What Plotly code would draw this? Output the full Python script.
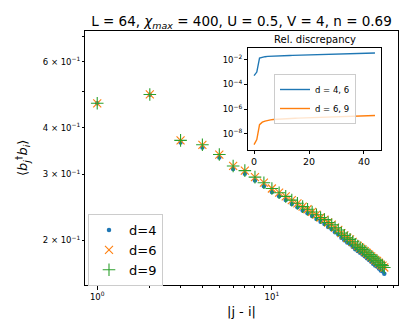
import plotly.graph_objects as go

# main panel: correlation vs distance
dist = list(range(1, 45))
corr_d4 = [0.465, 0.490, 0.365, 0.354, 0.333, 0.310, 0.301, 0.289, 0.279, 0.269,
           0.262, 0.256, 0.250, 0.245, 0.240, 0.236, 0.232, 0.228, 0.224, 0.221,
           0.217, 0.214, 0.210, 0.207, 0.203, 0.200, 0.197, 0.195, 0.192, 0.189,
           0.187, 0.185, 0.183, 0.181, 0.179, 0.177, 0.175, 0.173, 0.171, 0.170,
           0.168, 0.166, 0.165, 0.1627]
corr_d6 = [0.465, 0.491, 0.370, 0.360, 0.339, 0.316, 0.307, 0.295, 0.285, 0.275,
           0.268, 0.262, 0.256, 0.251, 0.246, 0.242, 0.238, 0.234, 0.230, 0.227,
           0.223, 0.220, 0.216, 0.213, 0.209, 0.206, 0.203, 0.201, 0.198, 0.195,
           0.193, 0.191, 0.189, 0.187, 0.185, 0.183, 0.181, 0.179, 0.177, 0.176,
           0.174, 0.172, 0.171, 0.169]
corr_d9 = [0.465, 0.491, 0.370, 0.360, 0.339, 0.316, 0.307, 0.295, 0.285, 0.275,
           0.268, 0.262, 0.256, 0.251, 0.246, 0.242, 0.238, 0.234, 0.230, 0.227,
           0.223, 0.220, 0.216, 0.213, 0.209, 0.206, 0.203, 0.201, 0.198, 0.195,
           0.193, 0.191, 0.189, 0.187, 0.185, 0.183, 0.181, 0.179, 0.177, 0.176,
           0.174, 0.172, 0.171, 0.169]

# inset: relative discrepancy
idx = list(range(0, 45))
disc_46 = [5.1e-4, 1.0e-3, 1.38e-2, 1.6e-2, 1.75e-2, 1.85e-2, 1.92e-2, 1.98e-2, 2.03e-2, 2.07e-2,
           2.1e-2, 2.14e-2, 2.17e-2, 2.2e-2, 2.23e-2, 2.26e-2, 2.29e-2, 2.32e-2, 2.35e-2, 2.38e-2,
           2.41e-2, 2.44e-2, 2.47e-2, 2.5e-2, 2.53e-2, 2.57e-2, 2.6e-2, 2.64e-2, 2.68e-2, 2.72e-2,
           2.76e-2, 2.8e-2, 2.85e-2, 2.9e-2, 2.95e-2, 3.0e-2, 3.05e-2, 3.1e-2, 3.15e-2, 3.2e-2,
           3.26e-2, 3.32e-2, 3.38e-2, 3.44e-2, 3.5e-2]
disc_69 = [1.4e-9, 3.5e-9, 5.6e-8, 8.9e-8, 1.1e-7, 1.29e-7, 1.38e-7, 1.46e-7, 1.53e-7, 1.6e-7,
           1.66e-7, 1.71e-7, 1.75e-7, 1.79e-7, 1.83e-7, 1.86e-7, 1.9e-7, 1.93e-7, 1.96e-7, 1.98e-7,
           2.0e-7, 2.03e-7, 2.06e-7, 2.09e-7, 2.12e-7, 2.15e-7, 2.18e-7, 2.21e-7, 2.24e-7, 2.28e-7,
           2.32e-7, 2.36e-7, 2.4e-7, 2.44e-7, 2.5e-7, 2.55e-7, 2.6e-7, 2.66e-7, 2.72e-7, 2.78e-7,
           2.85e-7, 2.92e-7, 2.98e-7, 3.04e-7, 3.1e-7]

main_yticks = [0.2, 0.3, 0.4, 0.6]
main_ylabels = ["2 × 10<sup>−1</sup>", "3 × 10<sup>−1</sup>", "4 × 10<sup>−1</sup>", "6 × 10<sup>−1</sup>"]
inset_yticks = [1e-2, 1e-4, 1e-6, 1e-8]
inset_ylabels = ["10<sup>−2</sup>", "10<sup>−4</sup>", "10<sup>−6</sup>", "10<sup>−8</sup>"]

BLUE, ORANGE, GREEN = "#1f77b4", "#ff7f0e", "#2ca02c"
FONT = "DejaVu Sans"
W, H = 407, 320

fig = go.Figure()

fig.add_trace(go.Scatter(x=dist, y=corr_d4, mode="markers", name="d=4",
                         marker=dict(color=BLUE, size=4.5, symbol="circle"),
                         xaxis="x", yaxis="y", legend="legend"))
fig.add_trace(go.Scatter(x=dist, y=corr_d6, mode="markers", name="d=6",
                         marker=dict(color=ORANGE, size=8, symbol="x-thin",
                                     line=dict(color=ORANGE, width=1.1)),
                         xaxis="x", yaxis="y", legend="legend"))
fig.add_trace(go.Scatter(x=dist, y=corr_d9, mode="markers", name="d=9",
                         marker=dict(color=GREEN, size=9, symbol="cross-thin",
                                     line=dict(color=GREEN, width=1.1)),
                         xaxis="x", yaxis="y", legend="legend"))

fig.add_trace(go.Scatter(x=idx, y=disc_46, mode="lines", name="d = 4, 6",
                         line=dict(color=BLUE, width=1.4),
                         xaxis="x2", yaxis="y2", legend="legend2"))
fig.add_trace(go.Scatter(x=idx, y=disc_69, mode="lines", name="d = 6, 9",
                         line=dict(color=ORANGE, width=1.4),
                         xaxis="x2", yaxis="y2", legend="legend2"))

axis_style = dict(showline=True, linecolor="black", linewidth=1, mirror=True,
                  ticks="outside", tickcolor="black", showgrid=False, zeroline=False)

fig.update_layout(
    width=W, height=H,
    margin=dict(l=0, r=0, t=0, b=0),
    plot_bgcolor="white", paper_bgcolor="white",
    font=dict(family=FONT, color="black"),
    xaxis=dict(type="log", domain=[77 / W, 390 / W], range=[-0.07, 1.722],
               tickvals=[1, 10], ticktext=["10<sup>0</sup>", "10<sup>1</sup>"],
               ticklen=3.5, tickfont=dict(size=8.5),
               minor=dict(tickvals=[2, 3, 4, 5, 6, 7, 8, 9, 20, 30, 40, 50],
                          ticks="outside", ticklen=2, tickcolor="black"),
               anchor="y", **axis_style),
    yaxis=dict(type="log", domain=[1 - 277 / H, 1 - 23 / H], range=[-0.819, -0.139],
               tickvals=main_yticks, ticktext=main_ylabels, ticklen=2,
               tickfont=dict(size=8.5),
               minor=dict(tickvals=[0.5, 0.7], ticks="outside", ticklen=2, tickcolor="black"),
               anchor="x", **axis_style),
    xaxis2=dict(domain=[240 / W, 373.3 / W], range=[-2.2, 46.3],
                tickvals=[0, 20, 40], ticklen=3, tickfont=dict(size=9.5),
                anchor="y2", **axis_style),
    yaxis2=dict(type="log", domain=[1 - 141.7 / H, 1 - 40 / H], range=[-9.27, -1.056],
                tickvals=inset_yticks, ticktext=inset_ylabels, ticklen=3,
                tickfont=dict(size=8.5), anchor="x2", **axis_style),
    legend=dict(x=80 / W, y=1 - 206 / H, xanchor="left", yanchor="top",
                bgcolor="rgba(255,255,255,0.8)", bordercolor="#cccccc", borderwidth=1,
                font=dict(size=13), itemwidth=30, tracegroupgap=0),
    legend2=dict(x=266 / W, y=1 - 66 / H, xanchor="left", yanchor="top",
                 bgcolor="rgba(255,255,255,0.8)", bordercolor="#cccccc", borderwidth=1,
                 font=dict(size=8.5), itemwidth=30, tracegroupgap=0),
    title=dict(text="L = 64, <i>χ</i><sub><i>max</i></sub> = 400, U = 0.5, V = 4, n = 0.69",
               x=233.5 / W, xanchor="center", y=1 - 13 / H, yanchor="middle",
               font=dict(size=13.5)),
    showlegend=True,
)

fig.add_annotation(text="Rel. discrepancy", xref="paper", yref="paper",
                   x=306.6 / W, y=1 - 31 / H, showarrow=False,
                   font=dict(size=10), xanchor="center", yanchor="middle")
fig.add_annotation(text="|j - i|", xref="paper", yref="paper",
                   x=233.5 / W, y=1 - 303 / H, showarrow=False,
                   font=dict(size=13), xanchor="center", yanchor="middle")
fig.add_annotation(text="⟨<i>b</i><sub><i>j</i></sub><sup>†</sup><i>b</i><sub><i>i</i></sub>⟩",
                   xref="paper", yref="paper", textangle=-90,
                   x=15 / W, y=1 - 150 / H, showarrow=False,
                   font=dict(size=13), xanchor="center", yanchor="middle")

fig.write_html("out.html")
